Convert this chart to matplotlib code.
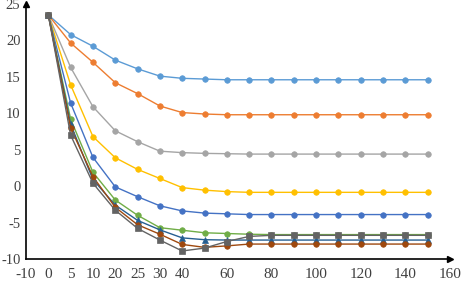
import matplotlib.pyplot as plt
import numpy as np

# sample times (points are evenly spaced on the axis, one slot each)
times = [0, 5, 10, 20, 25, 30, 40, 50, 60, 70, 80, 90, 100, 110, 120, 130, 140, 150]
tick_labels = ["-10", "0", "5", "10", "20", "25", "30", "40", "60", "80", "100", "120", "140", "160"]
axis_times = [-10] + times + [160]

s1 = [23.5, 20.8, 19.2, 17.3, 16.1, 15.1, 14.8, 14.7, 14.6, 14.6, 14.6, 14.6, 14.6, 14.6, 14.6, 14.6, 14.6, 14.6]
s2 = [23.5, 19.65, 17.0, 14.2, 12.7, 11.0, 10.1, 9.9, 9.8, 9.8, 9.8, 9.8, 9.8, 9.8, 9.8, 9.8, 9.8, 9.8]
s3 = [23.5, 16.3, 10.9, 7.6, 6.1, 4.8, 4.6, 4.5, 4.45, 4.4, 4.4, 4.4, 4.4, 4.4, 4.4, 4.4, 4.4, 4.4]
s4 = [23.5, 13.9, 6.8, 3.9, 2.3, 1.05, -0.2, -0.55, -0.75, -0.85, -0.85, -0.85, -0.85, -0.85, -0.85, -0.85, -0.85, -0.85]
s5 = [23.5, 11.4, 3.95, -0.1, -1.45, -2.7, -3.4, -3.7, -3.8, -3.9, -3.9, -3.9, -3.9, -3.9, -3.9, -3.9, -3.9, -3.9]
s6 = [23.5, 9.2, 1.9, -1.9, -4.0, -5.7, -6.05, -6.4, -6.5, -6.6, -6.65, -6.65, -6.65, -6.65, -6.65, -6.65, -6.65, -6.65]
s7 = [23.5, 8.5, 0.9, -2.6, -4.7, -6.0, -7.1, -7.35, -7.4, -7.4, -7.4, -7.4, -7.4, -7.4, -7.4, -7.4, -7.4, -7.4]
s8 = [23.5, 8.0, 1.3, -2.9, -5.3, -6.6, -8.0, -8.4, -8.2, -7.95, -7.95, -7.95, -7.95, -7.95, -7.95, -7.95, -7.95, -7.95]
s9 = [23.5, 7.0, 0.4, -3.3, -5.8, -7.4, -8.9, -8.5, -7.6, -6.9, -6.75, -6.75, -6.75, -6.75, -6.75, -6.75, -6.75, -6.75]

series = [s1, s2, s3, s4, s5, s6, s7, s8, s9]
colors = ["#5B9BD5", "#ED7D31", "#A5A5A5", "#FFC000", "#4472C4",
          "#70AD47", "#255E91", "#9E480E", "#636363"]
markers = ["o", "o", "o", "o", "o", "o", "^", "o", "s"]

plt.rcParams['font.family'] = ['Liberation Serif', 'DejaVu Serif']
plt.rcParams['axes.unicode_minus'] = False

fig = plt.figure(figsize=(4.61, 2.81), dpi=100)
ax = fig.add_axes([26 / 461, 1 - 259 / 281, 424 / 461, 255 / 281])

xs = np.arange(len(times))
for ys, c, m in zip(series, colors, markers):
    ax.plot(xs, ys, color=c, marker=m, markersize=4, linewidth=1.0,
            markeredgewidth=0.5, clip_on=False)

ax.set_xlim(-1, len(times))
ax.set_ylim(-10, 25)

tick_pos = [axis_times.index(int(t)) - 1 for t in tick_labels]
ax.set_xticks(tick_pos)
ax.set_xticklabels(tick_labels)
ax.set_yticks(np.arange(-10, 26, 5))

ax.tick_params(axis='both', length=0, labelsize=11, colors='#404040')
ax.tick_params(axis='x', pad=6.5)
ax.tick_params(axis='y', pad=4, labelsize=10.5)

for side in ["top", "right"]:
    ax.spines[side].set_visible(False)
for side in ["left", "bottom"]:
    ax.spines[side].set_color('black')
    ax.spines[side].set_linewidth(1.2)

# axis arrows
ax.plot(1, 0, ">k", markersize=4, transform=ax.transAxes, clip_on=False)
ax.plot(0, 1, "^k", markersize=4, transform=ax.transAxes, clip_on=False)

fig.savefig("out.png", dpi=100)
